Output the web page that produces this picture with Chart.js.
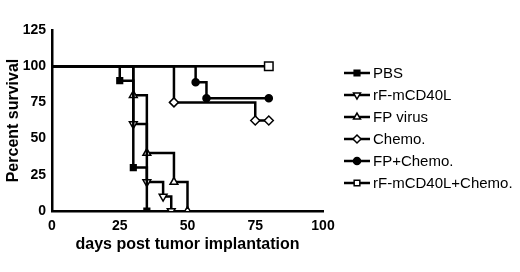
<!DOCTYPE html>
<html>
<head>
<meta charset="utf-8">
<script src="https://cdn.jsdelivr.net/npm/chart.js@4/dist/chart.umd.min.js"></script>
<style>
  html, body { margin: 0; padding: 0; background: #fff; }
  #wrap { width: 520px; height: 272px; position: relative; }
</style>
</head>
<body>
<div id="wrap"><canvas id="c"></canvas></div>
<script>
// ── Survival data ─────────────────────────────────────────────────────────
const seriesNames = ['PBS', 'rF-mCD40L', 'FP virus', 'Chemo.', 'FP+Chemo.', 'rF-mCD40L+Chemo.'];

const pbsDays      = [0, 25, 30, 35];
const pbsSurv      = [100, 90, 30, 0];
const cd40Days     = [0, 30, 35, 41, 44];
const cd40Surv     = [100, 60, 20, 10, 0];
const fpDays       = [0, 30, 35, 45, 50];
const fpSurv       = [100, 80, 40, 20, 0];
const chemoDays    = [0, 45, 75, 80];
const chemoSurv    = [100, 75, 62.5, 62.5];
const fpChemoDays  = [0, 53, 57, 80];
const fpChemoSurv  = [100, 88.9, 77.8, 77.8];
const cd40ChemoDays = [0, 80];
const cd40ChemoSurv = [100, 100];

const xTicks = [0, 25, 50, 75, 100];
const yTicks = [0, 25, 50, 75, 100, 125];

const FONT = '"Liberation Sans", Arial, sans-serif';

function toPoints(xs, ys) {
  return xs.map((x, i) => ({ x: x, y: ys[i] }));
}

// ── Marker styles per series ─────────────────────────────────────────────
const markers = [
  { style: 'rect',     rot: 0,   fill: '#000', r: 4 },
  { style: 'triangle', rot: 180, fill: '#fff', r: 4.5 },
  { style: 'triangle', rot: 0,   fill: '#fff', r: 4.5 },
  { style: 'rectRot',  rot: 0,   fill: '#fff', r: 4.5 },
  { style: 'circle',   rot: 0,   fill: '#000', r: 3.5 },
  { style: 'rect',     rot: 0,   fill: '#fff', r: 6 },
];

const rawSeries = [
  [pbsDays, pbsSurv],
  [cd40Days, cd40Surv],
  [fpDays, fpSurv],
  [chemoDays, chemoSurv],
  [fpChemoDays, fpChemoSurv],
  [cd40ChemoDays, cd40ChemoSurv],
];

const datasets = rawSeries.map((s, i) => {
  const m = markers[i];
  return {
    label: seriesNames[i],
    data: toPoints(s[0], s[1]),
    stepped: 'before',
    borderColor: '#000',
    borderWidth: 2.5,
    pointStyle: m.style,
    pointRotation: m.rot,
    pointBackgroundColor: m.fill,
    pointBorderColor: '#000',
    pointBorderWidth: 1.5,
    // no marker at the starting point (day 0, 100%)
    pointRadius: s[0].map((d, j) => j === 0 ? 0 : m.r),
    fill: false,
  };
});

// ── Legend drawn by hand to the right of the plot ────────────────────────
const sideLegend = {
  id: 'sideLegend',
  afterDraw(chart) {
    const ctx = chart.ctx;
    ctx.save();
    seriesNames.forEach((name, i) => {
      const y = 73 + i * 22;
      const m = markers[i];
      ctx.strokeStyle = '#000';
      ctx.lineWidth = 2.5;
      ctx.beginPath();
      ctx.moveTo(344, y);
      ctx.lineTo(370, y);
      ctx.stroke();
      ctx.fillStyle = m.fill;
      ctx.lineWidth = 1.5;
      Chart.helpers.drawPoint(ctx, {
        pointStyle: m.style, rotation: m.rot, radius: Math.min(m.r, 4), borderWidth: 1.5
      }, 357, y);
      ctx.fillStyle = '#000';
      ctx.font = '15px ' + FONT;
      ctx.textBaseline = 'middle';
      ctx.textAlign = 'left';
      ctx.fillText(name, 373, y + 1);
    });
    ctx.restore();
  }
};

new Chart(document.getElementById('c'), {
  type: 'line',
  data: { datasets: datasets },
  plugins: [sideLegend],
  options: {
    responsive: true,
    maintainAspectRatio: false,
    animation: false,
    layout: { padding: { left: 0, right: 197, top: 30, bottom: 14 } },
    plugins: {
      legend: { display: false },
      tooltip: { enabled: false },
    },
    scales: {
      x: {
        type: 'linear',
        min: 0, max: 100,
        afterBuildTicks: s => { s.ticks = xTicks.map(v => ({ value: v })); },
        afterFit: s => { s.height = 47; },
        grid: { display: false, drawTicks: true, tickLength: 5, tickWidth: 2.5, tickColor: '#000' },
        border: { display: true, color: '#000', width: 2.5 },
        ticks: { color: '#000', font: { family: FONT, size: 14, weight: 'bold' }, padding: 2, maxRotation: 0 },
        title: {
          display: true, text: 'days post tumor implantation', color: '#000',
          font: { family: FONT, size: 16, weight: 'bold' }, padding: { top: 2 }
        }
      },
      y: {
        type: 'linear',
        min: 0, max: 125,
        afterBuildTicks: s => { s.ticks = yTicks.map(v => ({ value: v })); },
        afterFit: s => { s.width = 52; },
        grid: { display: false, drawTicks: true, tickLength: 5, tickWidth: 2.5, tickColor: '#000' },
        border: { display: true, color: '#000', width: 2.5 },
        ticks: { color: '#000', font: { family: FONT, size: 14, weight: 'bold' }, padding: 1 },
        title: {
          display: true, text: 'Percent survival', color: '#000',
          font: { family: FONT, size: 16, weight: 'bold' }, padding: { bottom: 0 }
        }
      }
    }
  }
});
</script>
</body>
</html>
